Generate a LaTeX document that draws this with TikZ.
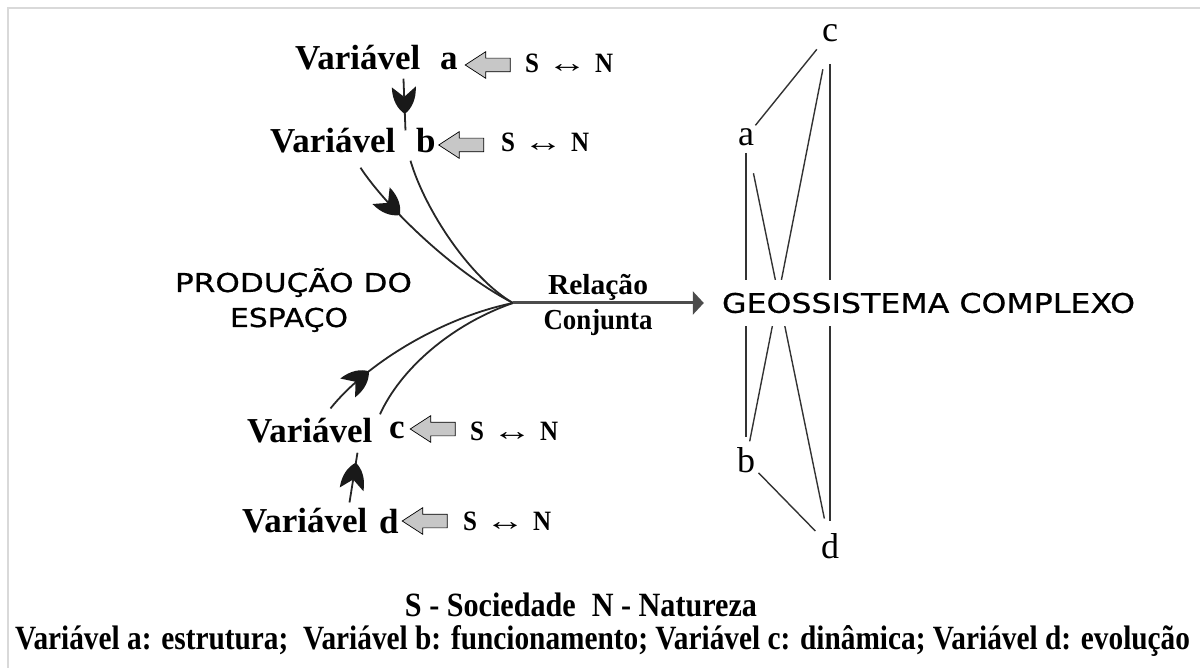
\documentclass[tikz,border=0pt]{standalone}
\usepackage{fontspec}
\usepackage{graphicx}
\setmainfont{Liberation Serif}
\newfontfamily\sansf[FakeBold=0.6]{DejaVu Sans}
\usetikzlibrary{arrows.meta,shapes.arrows,decorations.markings,calc}
\tikzset{
  midarr/.style={postaction={decorate},decoration={markings,mark=at position #1 with {\fill[black!90] (0pt,0pt) .. controls (-5pt,-7pt) and (-14pt,-12pt) .. (-27pt,-12pt) -- (-17pt,0pt) -- (-27pt,12pt) .. controls (-14pt,12pt) and (-5pt,7pt) .. cycle;}}},
  var/.style={font=\fontsize{35}{40}\selectfont\bfseries, inner sep=0pt, anchor=base west},
  sn/.style={font=\fontsize{28}{32}\selectfont, inner sep=0pt, anchor=base west},
  blk/.style={single arrow, draw=black, line width=0.7pt, fill=black!22, minimum height=45pt, single arrow head extend=6.5pt, single arrow tip angle=66, inner sep=0pt, shape border rotate=180},
  curve/.style={draw=black!85, line width=1.8pt},
  graphl/.style={draw=black!80, line width=1.4pt},
  gl/.style={font=\fontsize{36}{40}\selectfont, inner sep=0pt},
  frame/.style={draw=black!15, line width=2pt},
}
\newcommand{\SN}{\resizebox{88pt}{\height}{{\bfseries S}\hspace{9pt}\scalebox{1.6}[1]{↔}\hspace{9pt}{\bfseries N}}}
\newcommand{\blkrule}{\rule{0pt}{13pt}}
\begin{document}
\begin{tikzpicture}[x=1pt,y=-1pt]
\useasboundingbox (0,0) rectangle (1200,668);
\draw[frame] (7.5,668) -- (7.5,8.5) -- (1200,8.5);

% variable labels
\node[var] (wa) at (295,70) {Variável};
\node[var] (la) at (440,70) {a};
\node[var] (wb) at (270,153) {Variável};
\node[var] (lb) at (416,153) {b};
\node[var] (wc) at (247,442) {Variável};
\node[var] (lc) at (389,438) {c};
\node[var] (wd) at (242,532) {Variável};
\node[var] (ld) at (379,533) {d};

% block arrows
\node[blk] (ba) at (493,65) {\blkrule};
\node[blk] (bb) at (466.5,145) {\blkrule};
\node[blk] (bc) at (438,429) {\blkrule};
\node[blk] (bd) at (430,521) {\blkrule};

% S <-> N
\node[sn] (sa) at (525,73) {\SN};
\node[sn] (sb) at (501,152) {\SN};
\node[sn] (sc) at (470,440) {\SN};
\node[sn] (sd) at (463,530) {\SN};

% production text
\node[font=\sansf\fontsize{26}{32}\selectfont, inner sep=0pt, anchor=base] (p1) at (293.5,292) {\resizebox{237pt}{\height}{PRODUÇÃO DO}};
\node[font=\sansf\fontsize{26}{32}\selectfont, inner sep=0pt, anchor=base] (p2) at (289,327) {\resizebox{118pt}{\height}{ESPAÇO}};

\coordinate (conv) at (513,303);

% connectors
\draw[curve, midarr=0.68] ([xshift=-17pt,yshift=-8pt]wa.south east) -- ([xshift=10pt,yshift=-2pt]wb.north east);
\draw[curve] ([xshift=15pt,yshift=-7pt]wb.south east) .. controls (425,210) and (470,278) .. (conv);
\draw[curve, midarr=0.3] ([xshift=-35pt,yshift=-14pt]wb.south east) .. controls (385,205) and (450,270) .. (conv);
\draw[curve, midarr=0.25] ([xshift=-42pt,yshift=9pt]wc.north east) .. controls (365,365) and (440,318) .. (conv);
\draw[curve] ([xshift=-9pt,yshift=7pt]lc.north west) .. controls (400,370) and (450,325) .. (conv);
\draw[curve, midarr=0.8] ([xshift=-18pt,yshift=5pt]wd.north east) -- ([xshift=-15pt,yshift=-10pt]wc.south east);

% graph letters
\node[gl] (gc) at (830,33) {c};
\node[gl] (ga) at (746,137) {a};
\node[gl] (gb) at (746,460) {b};
\node[gl] (gd) at (830,546) {d};

\draw[graphl, shorten <=15pt, shorten >=21pt] (ga.center) -- (gc.center);
\draw[graphl, shorten <=16pt, shorten >=23pt] (ga.center) -- (gb.center);
\draw[graphl, shorten <=37pt, shorten >=28pt] (ga.center) -- (gd.center);
\draw[graphl, shorten <=37pt, shorten >=19pt] (gc.center) -- (gb.center);
\draw[graphl, shorten <=31pt, shorten >=25pt] (gc.center) -- (gd.center);
\draw[graphl, shorten <=18pt, shorten >=21pt] (gb.center) -- (gd.center);

\node[fill=white, inner xsep=4pt, inner ysep=0pt, minimum height=46pt, font=\sansf\fontsize{27}{32}\selectfont] (geo) at (928.5,303) {\resizebox{413pt}{\height}{GEOSSISTEMA COMPLEXO}};

\draw[line width=3pt, draw=black!70, -{Triangle[length=11pt,width=23pt]}, shorten >=14pt] (conv) -- (geo.west);
\node[font=\fontsize{29}{34}\selectfont\bfseries, inner sep=0pt, anchor=base] (rel) at (598,295) {\resizebox{100pt}{\height}{Relação}};
\node[font=\fontsize{29}{34}\selectfont\bfseries, inner sep=0pt, anchor=base] (conj) at (598,330) {\resizebox{109pt}{\height}{Conjunta}};

% legend
\node[font=\fontsize{34}{38}\selectfont\bfseries, inner sep=0pt, anchor=base] (leg1) at (581,616) {\resizebox{352pt}{\height}{S - Sociedade\hspace{18pt}N - Natureza}};
\node[font=\fontsize{34}{38}\selectfont\bfseries, inner sep=0pt, anchor=base] (leg2) at (602.5,649) {\resizebox{1175pt}{\height}{Variável a: estrutura;\ \ Variável b: funcionamento; Variável c: dinâmica; Variável d: evolução}};
\end{tikzpicture}
\end{document}
